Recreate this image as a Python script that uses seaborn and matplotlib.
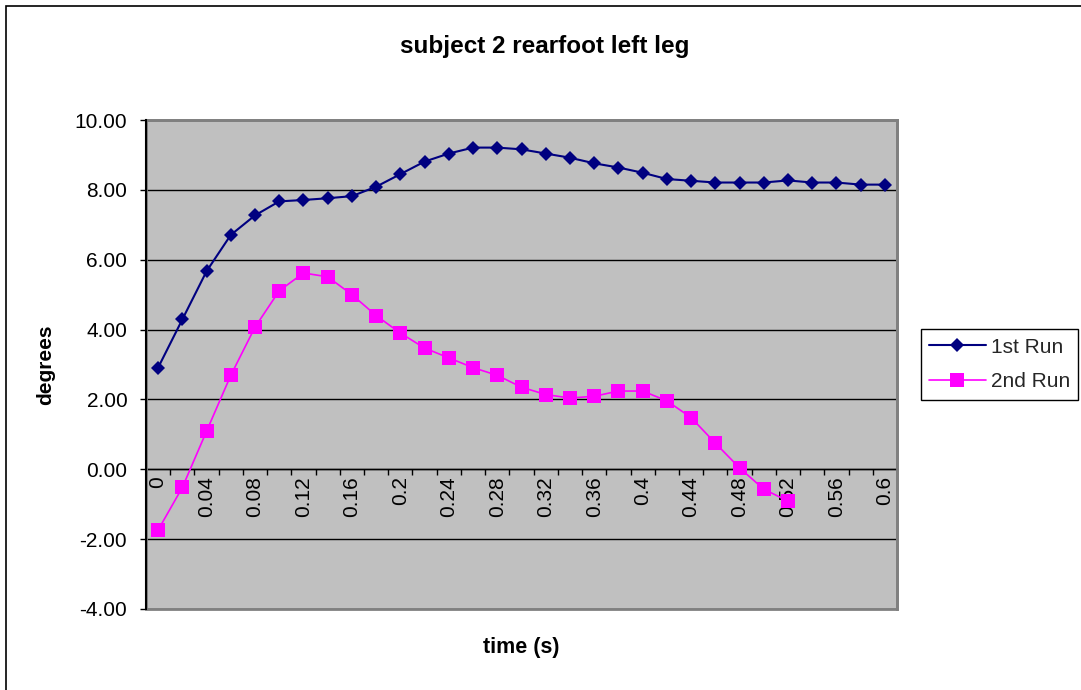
import numpy as np
import pandas as pd
import seaborn as sns
import matplotlib
matplotlib.use("Agg")
import matplotlib.pyplot as plt
from matplotlib.patches import Rectangle
from matplotlib.ticker import FixedLocator, FixedFormatter, FuncFormatter

# Sample times (s) along the category axis
time_labels = ["0", "0.02", "0.04", "0.06", "0.08", "0.1", "0.12", "0.14", "0.16",
               "0.18", "0.2", "0.22", "0.24", "0.26", "0.28", "0.3", "0.32", "0.34",
               "0.36", "0.38", "0.4", "0.42", "0.44", "0.46", "0.48", "0.5", "0.52",
               "0.54", "0.56", "0.58", "0.6"]

# Rearfoot angle (degrees)
run1 = [2.91, 4.29, 5.67, 6.71, 7.27, 7.67, 7.71, 7.76, 7.82, 8.09, 8.45, 8.81,
        9.04, 9.21, 9.21, 9.16, 9.04, 8.92, 8.76, 8.64, 8.49, 8.31, 8.26, 8.21,
        8.21, 8.21, 8.27, 8.21, 8.21, 8.15, 8.15]
run2 = [-1.74, -0.52, 1.09, 2.69, 4.07, 5.11, 5.62, 5.51, 5.00, 4.40, 3.90, 3.47,
        3.19, 2.91, 2.69, 2.35, 2.14, 2.04, 2.09, 2.24, 2.24, 1.96, 1.48, 0.75,
        0.04, -0.57, -0.91, np.nan, np.nan, np.nan, np.nan]

y_ticks = [-4, -2, 0, 2, 4, 6, 8, 10]

df = pd.DataFrame({
    "time": time_labels,
    "pos": np.arange(len(time_labels)),
    "1st Run": run1,
    "2nd Run": run2,
})

sns.set_theme(style="white")
plt.rcParams["font.family"] = ["Liberation Sans", "DejaVu Sans"]

W, H = 1081, 690
fig = plt.figure(figsize=(W / 100, H / 100), dpi=100)
fig.patch.set_facecolor("white")

# plot area in pixel terms
left, right, top, bottom = 146, 897, 120, 609
ax = fig.add_axes([left / W, 1 - bottom / H, (right - left) / W, (bottom - top) / H])
ax.set_facecolor("#C0C0C0")

sns.lineplot(data=df, x="pos", y="1st Run", ax=ax, color="#000080", marker="D",
             markersize=7.4, markeredgewidth=0, linewidth=1.5, label="1st Run", zorder=4)
sns.lineplot(data=df, x="pos", y="2nd Run", ax=ax, color="#FF00FF", marker="s",
             markersize=10, markeredgewidth=0, linewidth=1.2, label="2nd Run", zorder=3)

n = len(time_labels)
ax.set_xlim(-0.5, n - 0.5)
ax.set_ylim(y_ticks[0], y_ticks[-1])

# horizontal gridlines
ax.set_yticks(y_ticks)
ax.yaxis.set_major_formatter(FuncFormatter(lambda v, p: f"{v:.2f}"))
ax.yaxis.grid(True, color="black", linewidth=1)
ax.xaxis.grid(False)
ax.set_axisbelow(True)

# category axis: tick marks between categories, labels on every other category
ax.xaxis.set_major_locator(FixedLocator(np.arange(n + 1) - 0.5))
ax.xaxis.set_minor_locator(FixedLocator(df["pos"].values[::2]))
ax.xaxis.set_minor_formatter(FixedFormatter(time_labels[::2]))
ax.tick_params(axis="x", which="major", direction="out", length=4.5, width=1,
               color="black", labelbottom=False, bottom=True)
ax.tick_params(axis="x", which="minor", length=0, pad=5, labelsize=15,
               labelrotation=90, labelcolor="black", bottom=True, labelbottom=True)
for lbl in ax.xaxis.get_minorticklabels():
    lbl.set_verticalalignment("top")
    lbl.set_horizontalalignment("center")

ax.tick_params(axis="y", direction="out", length=4.5, width=1, color="black",
               pad=9, labelsize=15, labelcolor="black", left=True)

for side in ("top", "right"):
    ax.spines[side].set_color("#808080")
    ax.spines[side].set_linewidth(2)
ax.spines["left"].set_color("black")
ax.spines["left"].set_linewidth(1.5)
ax.spines["left"].set_zorder(6)
ax.spines["bottom"].set_position(("data", 0))
ax.spines["bottom"].set_color("black")
ax.spines["bottom"].set_linewidth(1)

# plot-area border
ax.add_patch(Rectangle((0, 0), 1, 1, transform=ax.transAxes, fill=False,
                       edgecolor="#808080", linewidth=2, zorder=5, clip_on=False))

ax.set_xlabel("time (s)", fontsize=15.5, fontweight="bold", color="black")
ax.xaxis.set_label_coords(0.5, (bottom - 648) / (bottom - top))
ax.xaxis.label.set_verticalalignment("center")
ax.set_ylabel("degrees", fontsize=15, fontweight="bold", color="black")
ax.yaxis.set_label_coords((46 - left) / (right - left), 0.5)
ax.yaxis.label.set_verticalalignment("center")

fig.text(545 / W, 1 - 46 / H, "subject 2 rearfoot left leg", fontsize=17.5,
         fontweight="bold", ha="center", va="center", color="black")

leg = ax.legend(loc="center left", bbox_to_anchor=(921 / W, 1 - 364.5 / H),
                bbox_transform=fig.transFigure, frameon=True, fancybox=False,
                edgecolor="black", framealpha=1, facecolor="white", fontsize=15,
                handlelength=2.7, handletextpad=0.25, labelspacing=0.75,
                borderpad=0.4, borderaxespad=0)
leg.get_frame().set_linewidth(1)

# outer chart frame
fig.patches.append(Rectangle((6 / W, -0.1), 1.2, 1.1 - 6 / H, transform=fig.transFigure,
                             fill=False, edgecolor="black", linewidth=1.2, figure=fig))

fig.savefig("out.png", dpi=100)
